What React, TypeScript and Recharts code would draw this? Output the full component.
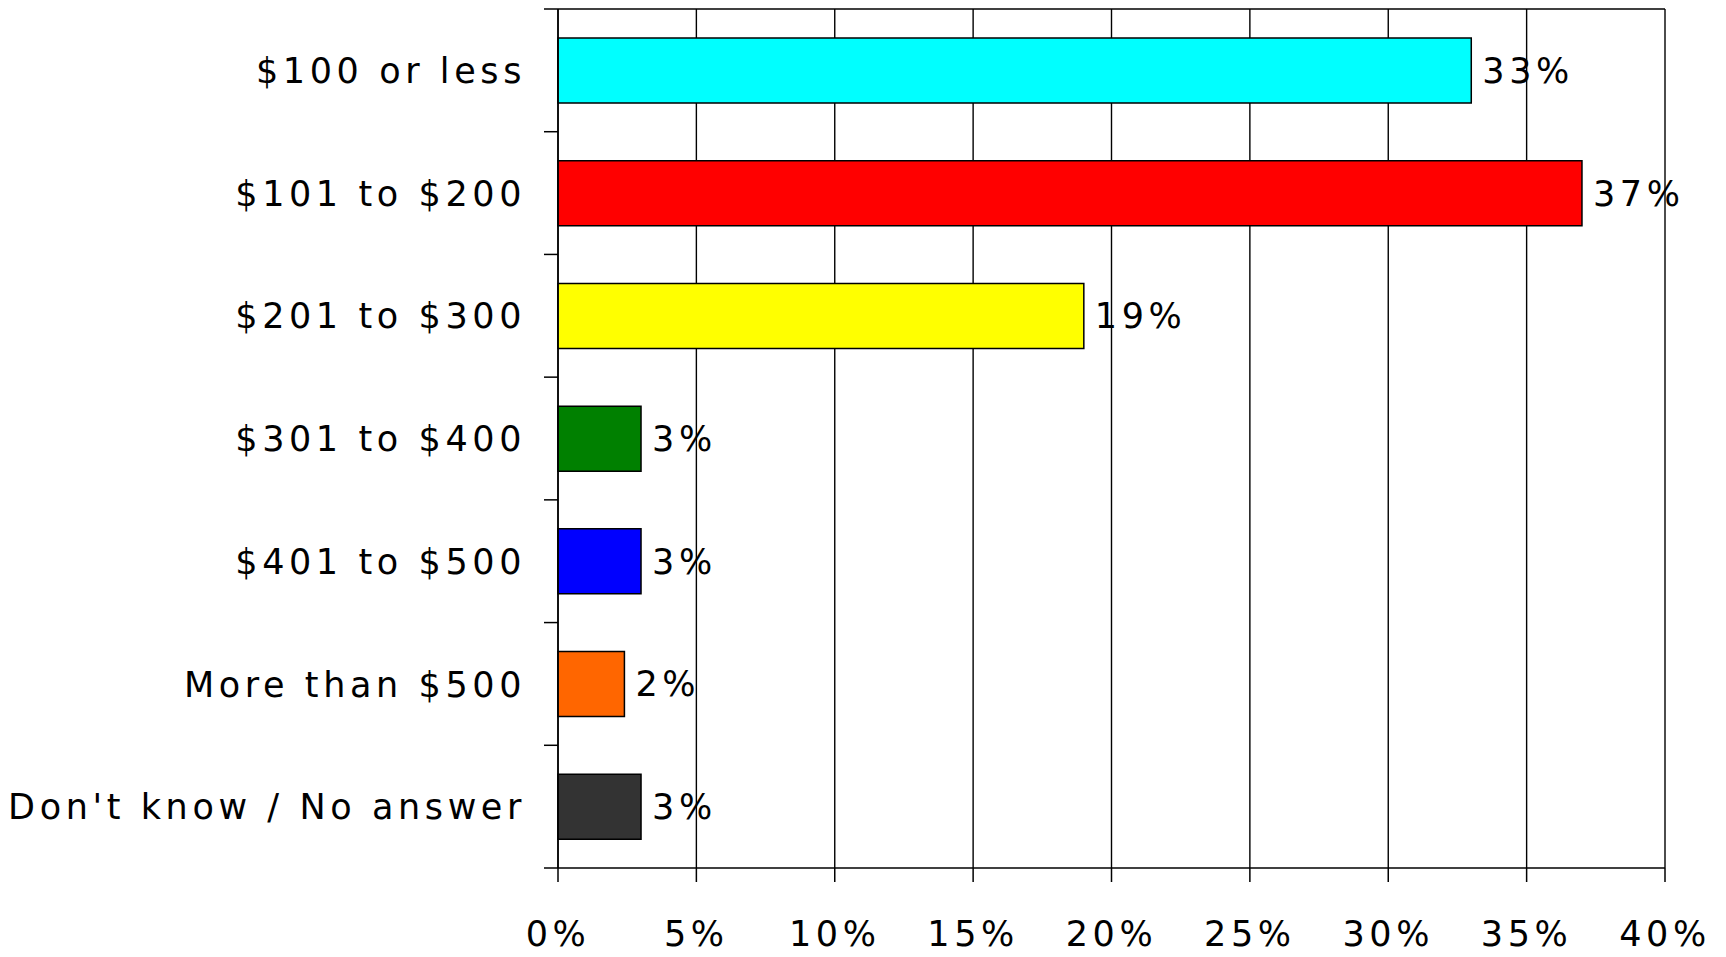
import { BarChart, Bar, XAxis, YAxis, CartesianGrid, Cell, LabelList } from "recharts";

const CATEGORIES = [
  "$100 or less",
  "$101 to $200",
  "$201 to $300",
  "$301 to $400",
  "$401 to $500",
  "More than $500",
  "Don't know / No answer",
];
const VALUES = [33, 37, 19, 3, 3, 2.4, 3];
const COLORS = ["#00FFFF", "#FF0000", "#FFFF00", "#008000", "#0000FF", "#FF6600", "#333333"];
const X_TICKS = [0, 5, 10, 15, 20, 25, 30, 35, 40];

const W = 1726;
const H = 957;
const MARGIN = { top: 9, right: 61, bottom: 0, left: 0 };
const X_AXIS_H = 89;
const FONT = "'DejaVu Sans', sans-serif";
const TEXT = { fontFamily: FONT, fontSize: 35, letterSpacing: 4.6, fill: "#000" };

const data = CATEGORIES.map((name, i) => ({ name, value: VALUES[i] }));

// half of one category band, so the y ticks sit between categories like in Excel
const HALF_BAND = (H - MARGIN.top - MARGIN.bottom - X_AXIS_H) / CATEGORIES.length / 2;

function CategoryTick(props: any) {
  const { x, y, payload, index } = props;
  const last = index === CATEGORIES.length - 1;
  return (
    <g>
      <text x={x + 3} y={y} dy="0.36em" textAnchor="end" {...TEXT}>
        {payload.value}
      </text>
      <line x1={x + 21} x2={x + 35} y1={y - HALF_BAND} y2={y - HALF_BAND} stroke="#000" strokeWidth={1.5} />
      {last && (
        <line x1={x + 21} x2={x + 35} y1={y + HALF_BAND} y2={y + HALF_BAND} stroke="#000" strokeWidth={1.5} />
      )}
    </g>
  );
}

export default function App() {
  return (
    <div style={{ position: "absolute", left: 0, top: 0, width: W, height: H, background: "#fff" }}>
      <BarChart width={W} height={H} data={data} layout="vertical" margin={MARGIN}>
        {/* vertical grid lines + the top border of the plot */}
        <CartesianGrid
          stroke="#000"
          strokeWidth={1.4}
          horizontalCoordinatesGenerator={({ offset }: any) => [offset.top]}
        />
        <XAxis
          type="number"
          domain={[0, 40]}
          ticks={X_TICKS}
          tickFormatter={(v: number) => `${v}%`}
          height={X_AXIS_H}
          tickSize={14}
          tickMargin={39}
          axisLine={{ stroke: "#000", strokeWidth: 1.5 }}
          tickLine={{ stroke: "#000", strokeWidth: 1.5 }}
          tick={TEXT}
          interval={0}
        />
        <YAxis
          type="category"
          dataKey="name"
          width={558}
          tickSize={14}
          tickMargin={21}
          tickLine={false}
          axisLine={{ stroke: "#000", strokeWidth: 1.5 }}
          tick={<CategoryTick />}
          interval={0}
        />
        <Bar dataKey="value" barSize={65} stroke="#000" strokeWidth={1.5} isAnimationActive={false}>
          {data.map((d, i) => (
            <Cell key={d.name} fill={COLORS[i]} />
          ))}
          <LabelList
            dataKey="value"
            position="right"
            offset={11}
            formatter={(v: any) => `${Math.round(Number(v))}%`}
            style={TEXT}
          />
        </Bar>
      </BarChart>
    </div>
  );
}
